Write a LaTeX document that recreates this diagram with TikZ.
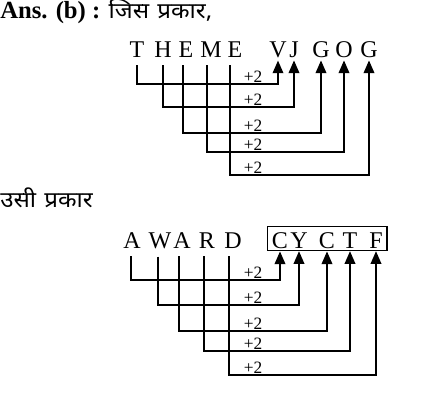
\documentclass[tikz,border=0pt]{standalone}
\usepackage{fontspec}
\setmainfont{Liberation Serif}
\newfontfamily\hindi[Script=Devanagari,FakeStretch=1.1,WordSpace=1.3]{Noto Sans}
\usetikzlibrary{arrows.meta,fit}

\tikzset{
  letter/.style={font=\fontsize{18}{20}\selectfont, inner xsep=0pt, inner ysep=6pt, anchor=base},
  codeletter/.style={font=\fontsize{18}{20}\selectfont, inner xsep=0pt, inner ysep=2.2pt, anchor=base},
  plus/.style={font=\fontsize{13}{15}\selectfont, inner sep=1pt, anchor=south},
  link/.style={line width=1.1pt, -{Triangle[length=9.5pt,width=8pt]}}
}

\begin{document}
\begin{tikzpicture}[x=0.75pt,y=-0.75pt]
    \useasboundingbox (0,0) rectangle (447,400);

    % heading lines
    \node[anchor=base west, inner sep=0pt] (head) at (0,18)
        {\fontsize{18.5}{20}\selectfont\textbf{Ans. (b) :} {\hindi\fontsize{16.5}{19}\selectfont जिस प्रकार,}};
    \node[anchor=base west, inner sep=0pt] (same) at (0,207)
        {\hindi\fontsize{16.5}{19}\selectfont उसी प्रकार};

    % THEME -> VJGOG
    \node[letter] (t1) at (137,57) {T};
    \node[letter] (t2) at (163,57) {H};
    \node[letter] (t3) at (186,57) {E};
    \node[letter] (t4) at (211,57) {M};
    \node[letter] (t5) at (235,57) {E};

    \node[codeletter] (v1) at (278,57) {V};
    \node[codeletter] (v2) at (294,57) {J};
    \node[codeletter] (v3) at (321,57) {G};
    \node[codeletter] (v4) at (344,57) {O};
    \node[codeletter] (v5) at (369,57) {G};

    \node[plus] (p1) at (253,84) {+2};
    \node[plus] (p2) at (253,107) {+2};
    \node[plus] (p3) at (253,133) {+2};
    \node[plus] (p4) at (253,152) {+2};
    \node[plus] (p5) at (253,175) {+2};

    \foreach \i/\dx in {1/0,2/0,3/-3,4/-4,5/-5}
        \draw[link] ([xshift=\dx*0.75pt]t\i.south) |- (p\i.south) -| (v\i.south);

    % AWARD -> CYCTF
    \node[letter] (a1) at (132,248) {A};
    \node[letter] (a2) at (160,248) {W};
    \node[letter] (a3) at (182,248) {A};
    \node[letter] (a4) at (207,248) {R};
    \node[letter] (a5) at (233,248) {D};

    \node[codeletter] (d1) at (280,248) {C};
    \node[codeletter] (d2) at (299,248) {Y};
    \node[codeletter] (d3) at (327,248) {C};
    \node[codeletter] (d4) at (350,248) {T};
    \node[codeletter] (d5) at (376,248) {F};

    \node[draw, line width=1.1pt, inner xsep=3pt, inner ysep=2pt,
          fit=(d1.north west)(d5.base east)] (box) {};

    \node[plus] (q1) at (253,280) {+2};
    \node[plus] (q2) at (253,305) {+2};
    \node[plus] (q3) at (253,331) {+2};
    \node[plus] (q4) at (253,351) {+2};
    \node[plus] (q5) at (253,375) {+2};

    \foreach \i/\dx in {1/-1,2/-2,3/-3,4/-3,5/-4}
        \draw[link] ([xshift=\dx*0.75pt]a\i.south) |- (q\i.south) -| (d\i.south);
\end{tikzpicture}
\end{document}
